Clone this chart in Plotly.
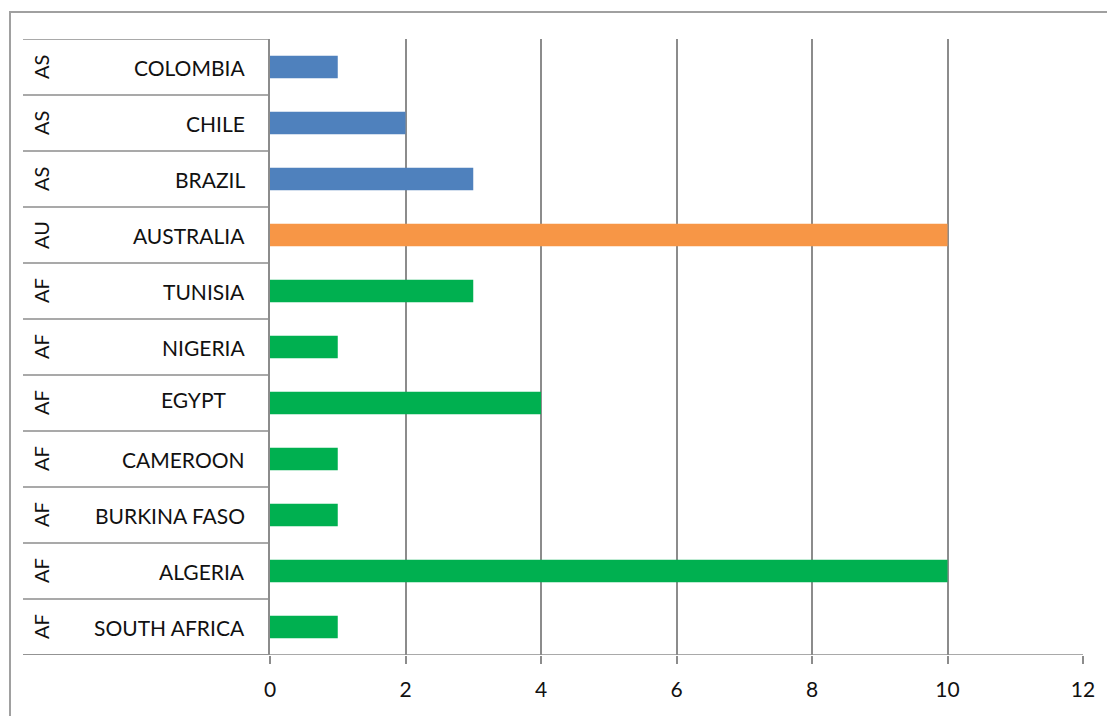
import plotly.graph_objects as go

# Data (bottom to top)
countries = ["SOUTH AFRICA", "ALGERIA", "BURKINA FASO", "CAMEROON", "EGYPT",
             "NIGERIA", "TUNISIA", "AUSTRALIA", "BRAZIL", "CHILE", "COLOMBIA"]
regions = ["AF", "AF", "AF", "AF", "AF", "AF", "AF", "AU", "AS", "AS", "AS"]
values = [1, 10, 1, 1, 4, 1, 3, 10, 3, 2, 1]
x_ticks = [0, 2, 4, 6, 8, 10, 12]

region_colors = {"AS": "#4F81BD", "AU": "#F79646", "AF": "#00B050"}
GRID = "#8C8C8C"
FONT = "Lato"
TXT = "#111111"

fig = go.Figure()
fig.add_trace(go.Bar(
    y=countries, x=values, orientation="h",
    marker=dict(color=[region_colors[r] for r in regions], line=dict(width=0)),
    width=0.4, showlegend=False, hoverinfo="x+y",
))

OFF = 8  # page body margin
W, H = 1115 - OFF, 716 - OFF
L, T = 270 - OFF, 39 - OFF
R = W - (1083 - OFF)
B = H - (655 - OFF)
pw, ph = W - L - R, H - T - B

def px_to_paper_x(px):  # px in screen coordinates
    return (px - OFF - L) / pw

def px_to_paper_y(py):
    return (H - B - (py - OFF)) / ph

shapes = []
# outer chart border
shapes.append(dict(type="rect", xref="paper", yref="paper",
                   x0=px_to_paper_x(10), x1=px_to_paper_x(1125),
                   y0=px_to_paper_y(730), y1=px_to_paper_y(12),
                   line=dict(color="#A0A0A0", width=2), fillcolor="rgba(0,0,0,0)", layer="below"))
# category separators in the label column
n = len(countries)
for i in range(n + 1):
    shapes.append(dict(type="line", xref="paper", yref="y",
                       x0=px_to_paper_x(23), x1=0, y0=i - 0.5, y1=i - 0.5,
                       line=dict(color=GRID, width=1.5)))
# bottom axis line across the full width
shapes.append(dict(type="line", xref="paper", yref="y",
                   x0=px_to_paper_x(23), x1=1, y0=-0.5, y1=-0.5,
                   line=dict(color=GRID, width=1.5)))

annotations = []
for i, (c, r) in enumerate(zip(countries, regions)):
    xs = -18 if c == "EGYPT" else 0
    ys = 4 if c == "EGYPT" else 0
    annotations.append(dict(xref="paper", yref="y", x=px_to_paper_x(247), y=c,
                            text=c, showarrow=False, xanchor="right", yanchor="middle",
                            xshift=xs, yshift=ys,
                            font=dict(family=FONT, size=21, color=TXT)))
    annotations.append(dict(xref="paper", yref="y", x=px_to_paper_x(41), y=c,
                            text=r, showarrow=False, textangle=-90,
                            xanchor="center", yanchor="middle",
                            font=dict(family=FONT, size=20, color=TXT)))

fig.update_layout(
    width=W, height=H,
    margin=dict(l=L, r=R, t=T, b=B, pad=0),
    paper_bgcolor="white", plot_bgcolor="white",
    xaxis=dict(range=[0, 12], tickvals=x_ticks, showgrid=True, gridcolor=GRID, gridwidth=1.5,
               zeroline=False, showline=False, ticks="outside", ticklen=8, tickcolor=GRID,
               tickwidth=1.5, ticklabelstandoff=8,
               tickfont=dict(family=FONT, size=21, color=TXT)),
    yaxis=dict(categoryorder="array", categoryarray=countries, range=[-0.5, n - 0.5],
               showticklabels=False, showgrid=False, zeroline=False,
               showline=True, linecolor=GRID, linewidth=1.5, ticks=""),
    shapes=shapes, annotations=annotations,
)

fig.write_html("out.html")
